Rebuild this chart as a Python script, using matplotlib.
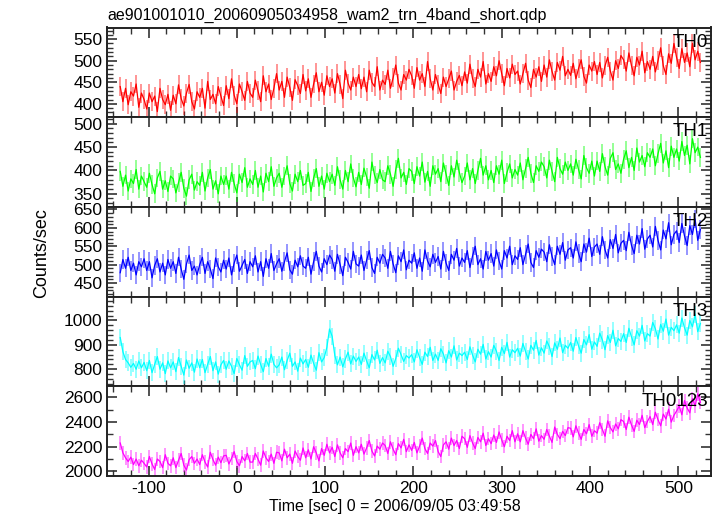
import numpy as np
import matplotlib
matplotlib.use("Agg")
import matplotlib.pyplot as plt
from matplotlib.ticker import MultipleLocator

plt.rcParams['font.family'] = ['Liberation Sans', 'DejaVu Sans']
plt.rcParams['axes.unicode_minus'] = False

title = "ae901001010_20060905034958_wam2_trn_4band_short.qdp"
xlabel = "Time [sec] 0 = 2006/09/05 03:49:58"
ylabel = "Counts/sec"

t_start = -132
bin_width = 3

th0 = [
    440, 405, 436, 398, 428, 418, 446, 392, 425, 410,
    388, 425, 405, 418, 382, 436, 410, 398, 422, 385,
    420, 400, 444, 412, 395, 425, 445, 405, 388, 428,
    415, 436, 390, 452, 410, 422, 400, 440, 418, 396,
    442, 412, 458, 420, 400, 446, 428, 408, 452, 425,
    415, 455, 430, 405, 465, 428, 446, 410, 436, 470,
    432, 452, 415, 462, 438, 408, 456, 442, 424, 468,
    430, 458, 415, 446, 472, 428, 450, 420, 465, 440,
    458, 425, 470, 445, 412, 478, 448, 432, 462, 440,
    468, 435, 462, 428, 478, 450, 440, 486, 432, 455,
    445, 478, 436, 460, 490, 448, 432, 468, 455, 480,
    465, 436, 484, 455, 470, 440, 498, 458, 432, 468,
    445, 424, 462, 440, 458, 476, 432, 452, 466, 442,
    474, 448, 492, 458, 440, 480, 462, 498, 446, 470,
    452, 486, 465, 500, 470, 442, 482, 460, 492, 468,
    476, 446, 470, 494, 455, 438, 480, 462, 486, 452,
    490, 462, 502, 475, 455, 496, 478, 510, 465, 480,
    466, 494, 458, 482, 502, 464, 448, 490, 476, 498,
    468, 496, 460, 488, 508, 476, 455, 500, 482, 512,
    502, 476, 518, 488, 465, 508, 490, 522, 472, 498,
    480, 510, 474, 500, 530, 488, 468, 516, 494, 540,
    508, 482, 528, 496, 518, 486, 540, 502, 522, 496,
]

th1 = [
    398, 366, 390, 356, 382, 372, 402, 360, 388, 376,
    364, 394, 370, 350, 384, 398, 360, 378, 355, 388,
    382, 352, 374, 396, 362, 345, 380, 392, 358, 376,
    368, 396, 356, 384, 402, 360, 378, 350, 388, 370,
    388, 360, 396, 372, 352, 392, 374, 406, 364, 382,
    370, 400, 364, 388, 354, 394, 376, 408, 366, 384,
    394, 364, 388, 410, 372, 356, 392, 376, 400, 368,
    372, 396, 355, 384, 404, 366, 388, 360, 394, 376,
    392, 368, 408, 380, 360, 400, 376, 414, 384, 365,
    396, 370, 405, 386, 362, 418, 390, 374, 402, 380,
    376, 410, 392, 366, 402, 426, 384, 396, 370, 404,
    398, 372, 408, 388, 418, 375, 398, 366, 410, 392,
    404, 376, 416, 392, 368, 410, 386, 422, 396, 374,
    388, 416, 380, 404, 372, 400, 426, 390, 410, 380,
    400, 374, 410, 392, 422, 372, 396, 414, 384, 402,
    390, 416, 380, 404, 428, 394, 374, 410, 398, 418,
    408, 384, 422, 398, 376, 428, 404, 392, 418, 400,
    414, 390, 424, 402, 382, 432, 406, 394, 420, 388,
    420, 398, 436, 408, 390, 426, 438, 402, 414, 394,
    424, 442, 406, 428, 400, 448, 418, 432, 408, 438,
    428, 446, 410, 436, 458, 416, 442, 406, 452, 428,
    446, 420, 462, 432, 454, 414, 468, 438, 450, 428,
]

th2 = [
    478, 514, 490, 520, 484, 504, 472, 508, 494, 516,
    484, 508, 464, 498, 516, 480, 504, 472, 514, 490,
    508, 476, 520, 488, 460, 502, 526, 484, 496, 472,
    500, 520, 476, 508, 488, 462, 518, 494, 480, 512,
    488, 518, 472, 504, 526, 482, 498, 514, 476, 508,
    494, 524, 480, 508, 468, 516, 490, 530, 484, 502,
    516, 482, 508, 532, 486, 474, 512, 494, 524, 496,
    490, 520, 474, 508, 536, 496, 480, 516, 500, 526,
    514, 482, 528, 500, 470, 520, 506, 488, 536, 502,
    496, 526, 484, 512, 538, 492, 476, 520, 504, 528,
    518, 490, 536, 502, 478, 524, 508, 540, 486, 512,
    504, 532, 490, 518, 482, 540, 510, 494, 528, 506,
    522, 488, 536, 504, 484, 528, 512, 544, 496, 518,
    506, 538, 492, 524, 550, 500, 516, 488, 536, 512,
    530, 496, 540, 510, 488, 538, 518, 550, 500, 524,
    514, 546, 500, 528, 556, 506, 492, 538, 520, 542,
    534, 508, 554, 522, 500, 550, 528, 560, 512, 540,
    546, 518, 562, 530, 508, 556, 534, 572, 522, 548,
    556, 528, 576, 540, 518, 568, 544, 582, 532, 558,
    566, 538, 588, 552, 530, 580, 556, 598, 542, 570,
    580, 548, 604, 566, 540, 594, 570, 614, 554, 582,
    592, 560, 612, 578, 552, 606, 582, 624, 566, 596,
]

th3 = [
    930, 872, 840, 826, 808, 824, 800, 834, 806, 828,
    794, 836, 786, 820, 852, 800, 826, 782, 834, 806,
    830, 790, 848, 812, 776, 838, 804, 826, 788, 842,
    806, 840, 786, 820, 852, 794, 830, 780, 818, 836,
    800, 834, 812, 782, 844, 818, 796, 856, 812, 830,
    836, 802, 854, 820, 790, 844, 812, 862, 820, 806,
    818, 850, 798, 836, 866, 812, 830, 792, 846, 822,
    840, 808, 858, 824, 796, 868, 830, 848, 890, 965,
    935, 856, 818, 850, 810, 842, 870, 822, 854, 832,
    850, 820, 866, 834, 806, 860, 838, 878, 824, 848,
    826, 874, 852, 812, 844, 886, 860, 832, 856, 846,
    860, 830, 880, 848, 820, 870, 852, 890, 836, 862,
    836, 884, 862, 826, 876, 850, 896, 838, 866, 856,
    870, 840, 892, 858, 830, 882, 862, 902, 842, 872,
    850, 898, 874, 836, 890, 864, 910, 850, 880, 868,
    886, 854, 906, 872, 842, 898, 878, 918, 858, 888,
    866, 916, 892, 852, 908, 882, 928, 868, 898, 886,
    910, 874, 930, 896, 866, 922, 900, 942, 882, 912,
    894, 948, 920, 880, 938, 910, 960, 896, 926, 914,
    946, 910, 968, 932, 900, 958, 936, 980, 916, 946,
    936, 992, 966, 924, 984, 956, 1006, 940, 972, 958,
    982, 948, 1010, 970, 940, 1000, 974, 1026, 954, 988,
]

th0123 = [
    2230, 2150, 2110, 2080, 2115, 2055, 2100, 2045, 2090, 2065,
    2035, 2120, 2060, 2015, 2100, 2080, 2030, 2135, 2065, 2045,
    2110, 2030, 2090, 2145, 2050, 2010, 2095, 2120, 2065, 2100,
    2055, 2135, 2075, 2035, 2155, 2095, 2050, 2115, 2070, 2125,
    2130, 2060, 2105, 2160, 2080, 2045, 2120, 2085, 2145, 2075,
    2075, 2145, 2100, 2050, 2165, 2110, 2080, 2140, 2065, 2155,
    2150, 2085, 2180, 2110, 2140, 2065, 2165, 2120, 2090, 2190,
    2110, 2175, 2100, 2200, 2150, 2085, 2185, 2130, 2220, 2150,
    2195, 2120, 2215, 2150, 2110, 2185, 2160, 2230, 2130, 2200,
    2150, 2220, 2140, 2190, 2250, 2165, 2125, 2205, 2180, 2230,
    2210, 2145, 2240, 2180, 2135, 2225, 2190, 2260, 2160, 2215,
    2170, 2235, 2150, 2205, 2270, 2185, 2145, 2230, 2205, 2250,
    2160, 2120, 2215, 2240, 2180, 2270, 2210, 2250, 2185, 2285,
    2265, 2195, 2290, 2230, 2185, 2275, 2240, 2310, 2210, 2265,
    2225, 2295, 2235, 2320, 2255, 2200, 2285, 2250, 2330, 2240,
    2305, 2240, 2330, 2270, 2220, 2300, 2265, 2345, 2245, 2290,
    2260, 2340, 2285, 2235, 2360, 2300, 2265, 2325, 2290, 2355,
    2350, 2280, 2370, 2310, 2260, 2340, 2305, 2380, 2285, 2330,
    2310, 2395, 2340, 2285, 2410, 2355, 2320, 2385, 2345, 2420,
    2405, 2340, 2440, 2375, 2325, 2415, 2380, 2455, 2355, 2405,
    2445, 2380, 2480, 2420, 2370, 2465, 2425, 2505, 2400, 2455,
    2490, 2530, 2460, 2575, 2515, 2475, 2590, 2530, 2630, 2560,
]

series = [th0, th1, th2, th3, th0123]
labels = ["TH0", "TH1", "TH2", "TH3", "TH0123"]
errors = [22, 20, 25, 35, 55]
colors = ["#ff0000", "#00ff00", "#0000ff", "#00ffff", "#ff00ff"]
ylims = [(369, 577), (322, 514), (413, 657), (730, 1098), (1962, 2691)]
yticks = [[400, 450, 500, 550], [350, 400, 450, 500], [450, 500, 550, 600, 650],
          [800, 900, 1000], [2000, 2200, 2400, 2600]]
yminor = [10, 10, 10, 20, 100]

fig = plt.figure(figsize=(7.17, 5.16), dpi=100)
left, right = 107 / 717, 711 / 717
top_px, bot_px = 27.5, 476
h = (bot_px - top_px) / 5

axes = []
for i in range(5):
    y0 = 1 - (top_px + (i + 1) * h) / 516
    ax = fig.add_axes([left, y0, right - left, h / 516])
    axes.append(ax)
    y = np.array(series[i], dtype=float)
    t = t_start + bin_width * np.arange(len(y))
    ax.vlines(t, y - errors[i], y + errors[i], color=colors[i], alpha=0.45,
              lw=1.3, zorder=2)
    ax.plot(t, y, color=colors[i], lw=0.9, zorder=3)
    ax.set_xlim(-147, 537)
    ax.set_ylim(*ylims[i])
    ax.set_yticks(yticks[i])
    ax.yaxis.set_minor_locator(MultipleLocator(yminor[i]))
    ax.xaxis.set_major_locator(MultipleLocator(100))
    ax.xaxis.set_minor_locator(MultipleLocator(20))
    ax.tick_params(which='both', direction='in', top=True, right=True,
                   color='#333333', labelsize=12.5)
    ax.tick_params(which='major', length=7, width=1.2)
    ax.tick_params(which='minor', length=4, width=1.0)
    for sp in ax.spines.values():
        sp.set_linewidth(1.4)
        sp.set_color('#222222')
    if i < 4:
        ax.tick_params(labelbottom=False)
    ax.text(0.995, 0.93, labels[i], transform=ax.transAxes, ha='right',
            va='top', fontsize=13.5, color='black', zorder=5)

fig.text(107 / 717, 1 - 20 / 516, title, ha='left', va='baseline', fontsize=11.5)
fig.text(395 / 717, 1 - 511 / 516, xlabel, ha='center', va='baseline', fontsize=11.5)
fig.text(0.058, 0.51, ylabel, rotation=90, ha='center', va='center', fontsize=13)

fig.savefig("out.png", dpi=100)
